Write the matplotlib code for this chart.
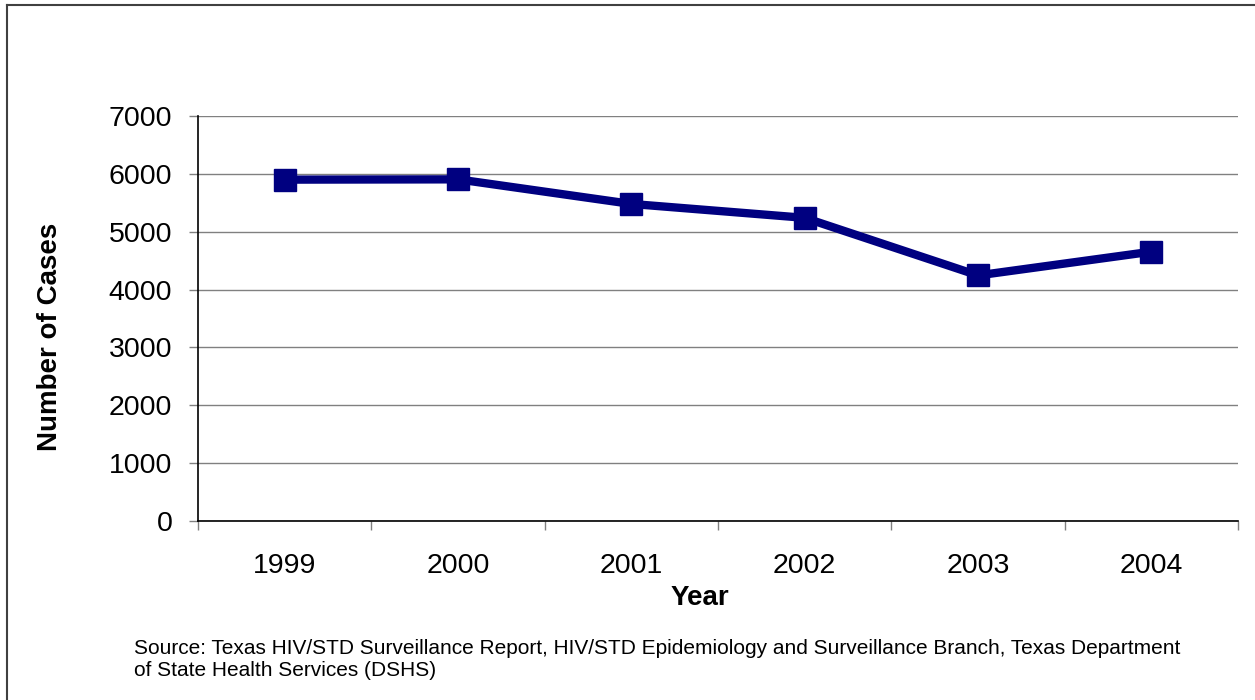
import matplotlib
matplotlib.use("Agg")
import matplotlib.pyplot as plt
from matplotlib.lines import Line2D
import numpy as np

years = ["1999", "2000", "2001", "2002", "2003", "2004"]
cases = [5900, 5905, 5480, 5240, 4245, 4655]
yticks = [0, 1000, 2000, 3000, 4000, 5000, 6000, 7000]

plt.rcParams['font.family'] = ['Liberation Sans', 'DejaVu Sans']

W, H = 1255, 700
fig = plt.figure(figsize=(W / 100, H / 100), dpi=100)
ax = fig.add_axes([198 / W, 1 - 521 / H, (1238 - 198) / W, (521 - 116) / H])

x = np.arange(len(years))
ax.plot(x, cases, color='#000080', lw=6.0, marker='s', markersize=16.5,
        markeredgecolor='#000080', markerfacecolor='#000080', solid_joinstyle='miter', zorder=3)

ax.set_xlim(-0.5, len(years) - 0.5)
ax.set_ylim(0, 7000)
ax.set_yticks(yticks)
ax.set_yticklabels([str(v) for v in yticks], fontsize=20.5)
ax.set_xticks(x)
ax.set_xticklabels(years, fontsize=20.5)
ax.set_xticks(np.arange(-0.5, len(years), 1.0), minor=True)
ax.tick_params(axis='x', which='major', length=0, pad=23)
ax.tick_params(axis='x', which='minor', length=6.5, color='#808080', width=1)
ax.tick_params(axis='y', which='major', length=6.5, color='#808080', width=1, pad=12)

ax.grid(axis='y', color='#808080', lw=1)
ax.set_axisbelow(True)
for s in ['top', 'right']:
    ax.spines[s].set_visible(False)
ax.spines['left'].set_color('black')
ax.spines['bottom'].set_color('black')
ax.spines['left'].set_linewidth(1.2)
ax.spines['bottom'].set_linewidth(1.2)

fig.text(700 / W, 1 - 598 / H, "Year", fontsize=20, fontweight='bold', ha='center', va='center')
fig.text(50 / W, 1 - 337 / H, "Number of Cases", fontsize=20, fontweight='bold',
         rotation=90, ha='center', va='center')
fig.text(134 / W, 1 - 660 / H,
         "Source: Texas HIV/STD Surveillance Report, HIV/STD Epidemiology and Surveillance Branch, Texas Department\nof State Health Services (DSHS)",
         fontsize=15, ha='left', va='center', linespacing=1.2)

# figure border (left and top visible)
fig.add_artist(Line2D([7 / W, 7 / W], [0, 1 - 5 / H], color='#404040', lw=1.5, transform=fig.transFigure))
fig.add_artist(Line2D([7 / W, 1], [1 - 5 / H, 1 - 5 / H], color='#404040', lw=1.5, transform=fig.transFigure))

fig.savefig("out.png", dpi=100, facecolor='white')
